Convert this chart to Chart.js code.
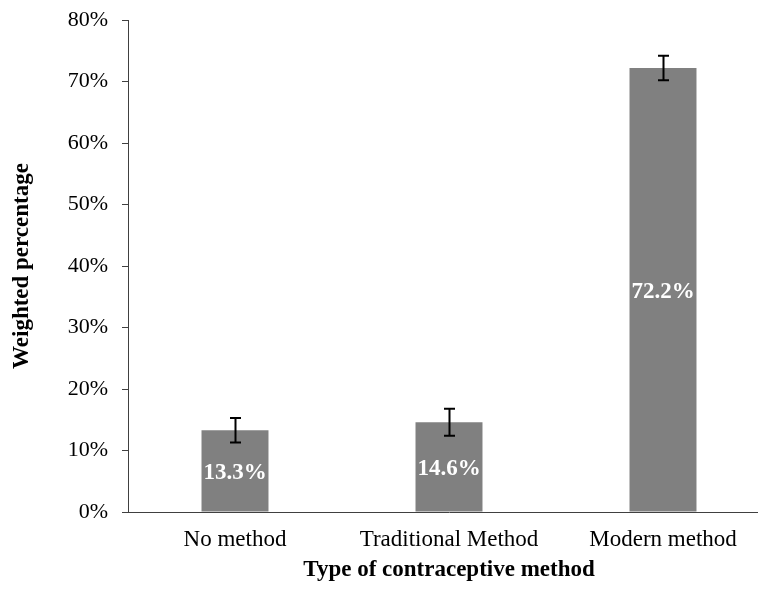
<!DOCTYPE html>
<html>
<head>
<meta charset="utf-8">
<script src="https://cdn.jsdelivr.net/npm/chart.js@4/dist/chart.umd.min.js"></script>
<style>
  html, body { margin: 0; padding: 0; background: #fff; overflow: hidden; }
  #wrap { width: 772px; height: 589px; position: relative; }
</style>
</head>
<body>
<div id="wrap"><canvas id="c"></canvas></div>
<script>
const categories = ["No method", "Traditional Method", "Modern method"];
const percentages = [13.3, 14.6, 72.2];
const errorMargins = [2.0, 2.2, 2.0];
const yTicks = [0, 10, 20, 30, 40, 50, 60, 70, 80];

const FONT = "'Liberation Serif', 'Times New Roman', serif";

const errorBarsPlugin = {
  id: 'errorBars',
  afterDatasetsDraw(chart) {
    const ctx = chart.ctx;
    const meta = chart.getDatasetMeta(0);
    const ys = chart.scales.y;
    ctx.save();
    ctx.strokeStyle = '#000';
    ctx.lineWidth = 2;
    meta.data.forEach((bar, i) => {
      const v = percentages[i], e = errorMargins[i];
      const yTop = ys.getPixelForValue(v + e);
      const yBot = ys.getPixelForValue(v - e);
      const x = Math.round(bar.x) + 0.5;
      const cap = 5.5;
      ctx.beginPath();
      ctx.moveTo(x, yTop); ctx.lineTo(x, yBot);
      ctx.moveTo(x - cap, yTop); ctx.lineTo(x + cap, yTop);
      ctx.moveTo(x - cap, yBot); ctx.lineTo(x + cap, yBot);
      ctx.stroke();
    });
    ctx.fillStyle = '#fff';
    ctx.font = "bold 23px " + FONT;
    ctx.textAlign = 'center';
    ctx.textBaseline = 'middle';
    meta.data.forEach((bar, i) => {
      ctx.fillText(percentages[i].toFixed(1) + '%', bar.x, (bar.y + bar.base) / 2 + 2);
    });
    ctx.restore();
  }
};

new Chart(document.getElementById('c'), {
  type: 'bar',
  data: {
    labels: categories,
    datasets: [{
      data: percentages,
      backgroundColor: '#808080',
      borderWidth: 0,
      barPercentage: 0.313,
      categoryPercentage: 1.0
    }]
  },
  options: {
    responsive: true,
    maintainAspectRatio: false,
    animation: false,
    layout: { padding: { top: 20, right: 2, left: 0, bottom: 0 } },
    plugins: { legend: { display: false }, tooltip: { enabled: false } },
    scales: {
      x: {
        grid: { display: false },
        border: { display: true, color: '#404040', width: 1 },
        ticks: { color: '#000', font: { family: FONT, size: 23 }, padding: 6, maxRotation: 0 },
        title: { display: true, text: 'Type of contraceptive method', color: '#000',
                 font: { family: FONT, size: 23, weight: 'bold' }, padding: { top: 0, bottom: 5 } },
        afterFit(scale) { scale.height = 77; }
      },
      y: {
        min: 0, max: 80,
        afterBuildTicks(scale) { scale.ticks = yTicks.map(v => ({ value: v })); },
        grid: { display: true, drawOnChartArea: false, drawTicks: true, tickLength: 6, color: '#404040' },
        border: { display: true, color: '#404040', width: 1 },
        ticks: { color: '#000', font: { family: FONT, size: 22 }, padding: 14,
                 callback: (v) => v + '%' },
        title: { display: true, text: 'Weighted percentage', color: '#000',
                 font: { family: FONT, size: 23, weight: 'bold' }, padding: { top: 8, bottom: 0 } },
        afterFit(scale) { scale.width = 128; scale.paddingTop = 0; scale.paddingBottom = 0; }
      }
    }
  },
  plugins: [errorBarsPlugin]
});
</script>
</body>
</html>
